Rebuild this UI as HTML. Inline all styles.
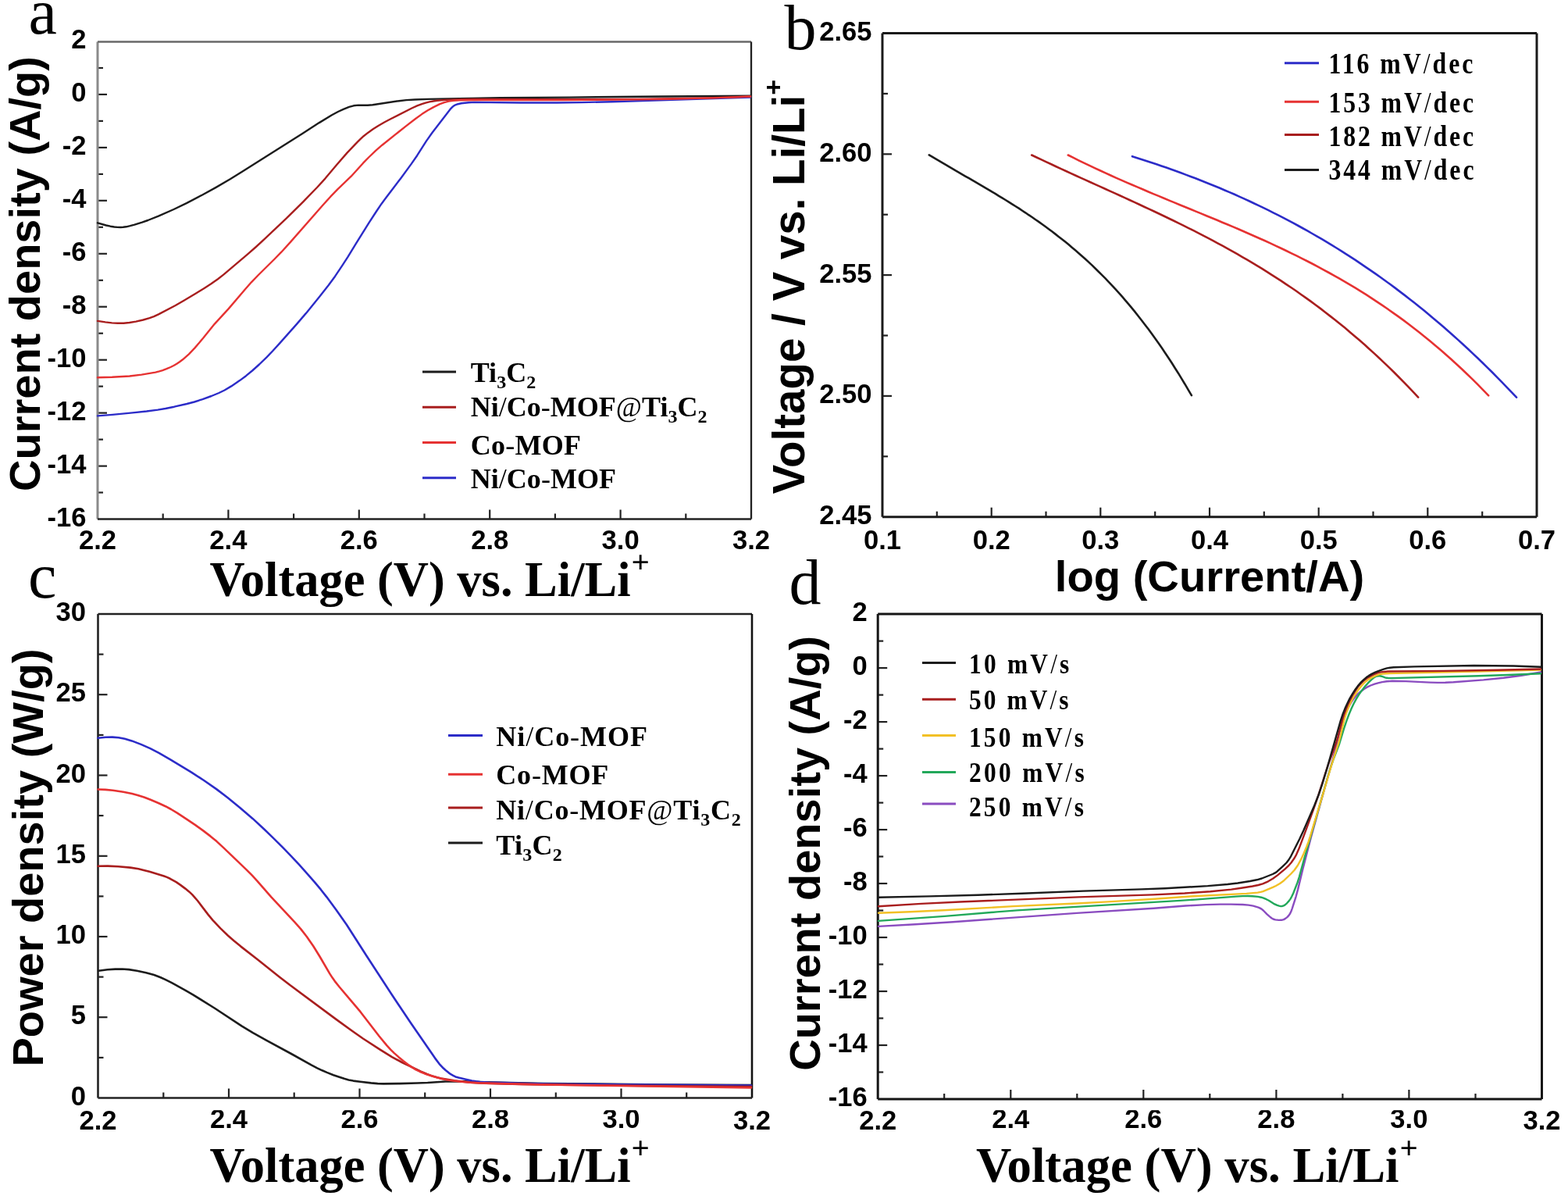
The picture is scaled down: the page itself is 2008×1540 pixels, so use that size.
<!DOCTYPE html>
<html><head><meta charset="utf-8"><title>Figure</title>
<style>html,body{margin:0;padding:0;background:#fff;}svg{display:block;}</style>
</head><body>
<svg xmlns="http://www.w3.org/2000/svg" width="2008" height="1540" viewBox="0 0 2008 1540">
<rect width="2008" height="1540" fill="#ffffff"/>
<line x1="125" y1="630.5" x2="132" y2="630.5" stroke="#222" stroke-width="2.2"/>
<line x1="125" y1="596.6" x2="137" y2="596.6" stroke="#222" stroke-width="2.2"/>
<line x1="125" y1="562.6" x2="132" y2="562.6" stroke="#222" stroke-width="2.2"/>
<line x1="125" y1="528.6" x2="137" y2="528.6" stroke="#222" stroke-width="2.2"/>
<line x1="125" y1="494.6" x2="132" y2="494.6" stroke="#222" stroke-width="2.2"/>
<line x1="125" y1="460.7" x2="137" y2="460.7" stroke="#222" stroke-width="2.2"/>
<line x1="125" y1="426.7" x2="132" y2="426.7" stroke="#222" stroke-width="2.2"/>
<line x1="125" y1="392.7" x2="137" y2="392.7" stroke="#222" stroke-width="2.2"/>
<line x1="125" y1="358.8" x2="132" y2="358.8" stroke="#222" stroke-width="2.2"/>
<line x1="125" y1="324.8" x2="137" y2="324.8" stroke="#222" stroke-width="2.2"/>
<line x1="125" y1="290.8" x2="132" y2="290.8" stroke="#222" stroke-width="2.2"/>
<line x1="125" y1="256.8" x2="137" y2="256.8" stroke="#222" stroke-width="2.2"/>
<line x1="125" y1="222.9" x2="132" y2="222.9" stroke="#222" stroke-width="2.2"/>
<line x1="125" y1="188.9" x2="137" y2="188.9" stroke="#222" stroke-width="2.2"/>
<line x1="125" y1="154.9" x2="132" y2="154.9" stroke="#222" stroke-width="2.2"/>
<line x1="125" y1="120.9" x2="137" y2="120.9" stroke="#222" stroke-width="2.2"/>
<line x1="125" y1="87.0" x2="132" y2="87.0" stroke="#222" stroke-width="2.2"/>
<line x1="208.7" y1="664.5" x2="208.7" y2="657.5" stroke="#222" stroke-width="2.2"/>
<line x1="292.4" y1="664.5" x2="292.4" y2="652.5" stroke="#222" stroke-width="2.2"/>
<line x1="376.1" y1="664.5" x2="376.1" y2="657.5" stroke="#222" stroke-width="2.2"/>
<line x1="459.8" y1="664.5" x2="459.8" y2="652.5" stroke="#222" stroke-width="2.2"/>
<line x1="543.5" y1="664.5" x2="543.5" y2="657.5" stroke="#222" stroke-width="2.2"/>
<line x1="627.2" y1="664.5" x2="627.2" y2="652.5" stroke="#222" stroke-width="2.2"/>
<line x1="710.9" y1="664.5" x2="710.9" y2="657.5" stroke="#222" stroke-width="2.2"/>
<line x1="794.6" y1="664.5" x2="794.6" y2="652.5" stroke="#222" stroke-width="2.2"/>
<line x1="878.3" y1="664.5" x2="878.3" y2="657.5" stroke="#222" stroke-width="2.2"/>
<line x1="125" y1="53.5" x2="125" y2="664.5" stroke="#8a8a8a" stroke-width="3"/>
<line x1="125" y1="53.5" x2="962" y2="53.5" stroke="#686868" stroke-width="2.5"/>
<line x1="962" y1="53.5" x2="962" y2="664.5" stroke="#202020" stroke-width="2.3"/>
<line x1="125" y1="664.5" x2="962" y2="664.5" stroke="#222" stroke-width="2.6"/>
<text x="110.5" y="62.1" font-family="'Liberation Sans', Arial, sans-serif" font-size="34.6" font-weight="bold" text-anchor="end" >2</text>
<text x="110.5" y="130.0" font-family="'Liberation Sans', Arial, sans-serif" font-size="34.6" font-weight="bold" text-anchor="end" >0</text>
<text x="110.5" y="198.0" font-family="'Liberation Sans', Arial, sans-serif" font-size="34.6" font-weight="bold" text-anchor="end" >-2</text>
<text x="110.5" y="265.9" font-family="'Liberation Sans', Arial, sans-serif" font-size="34.6" font-weight="bold" text-anchor="end" >-4</text>
<text x="110.5" y="333.9" font-family="'Liberation Sans', Arial, sans-serif" font-size="34.6" font-weight="bold" text-anchor="end" >-6</text>
<text x="110.5" y="401.8" font-family="'Liberation Sans', Arial, sans-serif" font-size="34.6" font-weight="bold" text-anchor="end" >-8</text>
<text x="110.5" y="469.8" font-family="'Liberation Sans', Arial, sans-serif" font-size="34.6" font-weight="bold" text-anchor="end" >-10</text>
<text x="110.5" y="537.7" font-family="'Liberation Sans', Arial, sans-serif" font-size="34.6" font-weight="bold" text-anchor="end" >-12</text>
<text x="110.5" y="605.7" font-family="'Liberation Sans', Arial, sans-serif" font-size="34.6" font-weight="bold" text-anchor="end" >-14</text>
<text x="110.5" y="673.6" font-family="'Liberation Sans', Arial, sans-serif" font-size="34.6" font-weight="bold" text-anchor="end" >-16</text>
<text x="125.0" y="703.0" font-family="'Liberation Sans', Arial, sans-serif" font-size="34.6" font-weight="bold" text-anchor="middle" >2.2</text>
<text x="292.4" y="703.0" font-family="'Liberation Sans', Arial, sans-serif" font-size="34.6" font-weight="bold" text-anchor="middle" >2.4</text>
<text x="459.8" y="703.0" font-family="'Liberation Sans', Arial, sans-serif" font-size="34.6" font-weight="bold" text-anchor="middle" >2.6</text>
<text x="627.2" y="703.0" font-family="'Liberation Sans', Arial, sans-serif" font-size="34.6" font-weight="bold" text-anchor="middle" >2.8</text>
<text x="794.6" y="703.0" font-family="'Liberation Sans', Arial, sans-serif" font-size="34.6" font-weight="bold" text-anchor="middle" >3.0</text>
<text x="962.0" y="703.0" font-family="'Liberation Sans', Arial, sans-serif" font-size="34.6" font-weight="bold" text-anchor="middle" >3.2</text>
<path d="M125.0,285.3 L136.0,288.5 L141.4,289.7 L146.3,290.5 L150.3,290.9 L154.3,291.0 L157.7,290.8 L161.7,290.3 L166.6,289.2 L172.3,287.6 L181.9,284.6 L189.4,282.0 L202.9,276.6 L222.5,268.0 L238.8,260.1 L259.6,249.3 L276.2,240.1 L294.8,229.3 L310.5,219.6 L387.3,170.9 L408.8,157.1 L425.0,147.3 L432.9,143.0 L439.7,139.8 L447.1,136.9 L452.9,135.3 L458.8,134.6 L470.8,134.7 L477.2,134.3 L510.9,129.2 L520.3,128.1 L531.2,127.5 L548.7,126.9 L640.7,125.1 L729.1,124.6 L846.6,123.5 L961.0,122.8" fill="none" stroke="#1c1c1c" stroke-width="2.4" stroke-linejoin="round" stroke-linecap="round"/>
<path d="M125.0,532.4 L143.9,530.9 L169.8,528.4 L187.7,526.5 L202.1,524.6 L211.9,523.0 L223.2,520.7 L239.3,517.0 L248.9,514.5 L259.4,511.1 L270.7,507.0 L280.4,503.0 L287.6,499.5 L296.2,494.4 L307.0,487.1 L315.0,481.2 L323.1,474.5 L332.0,466.5 L341.7,457.1 L349.0,449.5 L358.0,439.6 L380.0,414.9 L392.0,400.9 L409.0,379.9 L420.8,365.0 L429.1,353.7 L438.0,340.4 L445.3,329.1 L456.0,311.6 L472.7,284.9 L481.4,271.5 L488.7,260.7 L494.6,252.7 L513.1,228.4 L526.7,209.9 L534.1,199.2 L545.9,180.6 L553.4,170.0 L576.5,139.9 L579.9,136.4 L581.5,135.3 L583.2,134.3 L586.4,133.2 L590.8,132.3 L600.2,131.3 L607.7,130.9 L666.7,131.5 L712.7,131.5 L744.6,131.1 L784.1,130.2 L961.0,124.6" fill="none" stroke="#2c2cc8" stroke-width="2.4" stroke-linejoin="round" stroke-linecap="round"/>
<path d="M125.0,410.9 L134.9,412.4 L143.3,413.4 L150.8,413.8 L158.3,413.7 L165.7,413.0 L174.1,411.6 L183.4,409.5 L191.5,407.2 L197.1,405.1 L203.0,402.4 L224.7,391.0 L235.5,384.7 L251.4,375.2 L261.6,368.9 L270.4,363.2 L279.0,357.2 L286.5,351.4 L316.6,325.9 L327.9,316.0 L338.6,306.2 L366.9,279.4 L388.2,258.3 L406.0,240.0 L416.4,228.6 L431.8,210.2 L444.3,195.9 L457.4,182.1 L461.7,177.9 L465.7,174.2 L471.2,169.9 L477.7,165.3 L484.9,160.7 L492.7,156.2 L499.8,152.5 L527.4,138.5 L534.2,135.4 L540.3,133.1 L545.1,131.6 L549.9,130.4 L554.8,129.5 L559.8,128.8 L570.7,127.9 L591.2,127.1 L605.7,127.0 L701.6,127.3 L818.1,126.9 L906.1,125.4 L961.0,123.5" fill="none" stroke="#a81e1e" stroke-width="2.4" stroke-linejoin="round" stroke-linecap="round"/>
<path d="M125.0,483.2 L143.5,482.8 L165.9,481.5 L181.3,479.6 L199.1,476.6 L203.9,475.4 L208.2,474.1 L213.3,472.2 L218.4,470.0 L222.4,468.0 L226.3,465.8 L230.0,463.3 L234.0,460.3 L241.9,453.3 L249.5,445.4 L260.2,432.8 L274.9,414.6 L292.8,395.1 L313.6,370.7 L321.9,361.3 L330.9,352.0 L351.2,332.0 L360.3,322.7 L372.4,309.4 L413.3,262.8 L423.3,251.7 L432.3,242.3 L449.7,225.7 L465.1,208.7 L472.1,201.5 L481.1,192.9 L489.4,185.7 L520.3,161.1 L531.8,152.3 L540.3,146.1 L547.4,141.5 L555.3,137.1 L563.4,133.2 L569.0,131.1 L574.7,129.6 L580.6,128.7 L588.1,128.3 L617.6,128.0 L722.1,128.1 L818.6,127.4 L857.1,126.7 L906.1,125.6 L929.0,124.9 L961.0,123.5" fill="none" stroke="#e63232" stroke-width="2.4" stroke-linejoin="round" stroke-linecap="round"/>
<line x1="541" y1="475.9" x2="584" y2="475.9" stroke="#1c1c1c" stroke-width="3"/>
<text x="0" y="0" transform="translate(602.7,488.8) scale(1.0,1)" textLength="83.6" lengthAdjust="spacing" font-family="'Liberation Serif', 'Times New Roman', serif" font-size="36" font-weight="bold">Ti<tspan font-size="24" dy="8">3</tspan><tspan font-size="36" dy="-8">C</tspan><tspan font-size="24" dy="8">2</tspan></text>
<line x1="541" y1="521.3" x2="584" y2="521.3" stroke="#a81e1e" stroke-width="3"/>
<text x="0" y="0" transform="translate(602.7,533.2) scale(1.0,1)" textLength="302.8" lengthAdjust="spacing" font-family="'Liberation Serif', 'Times New Roman', serif" font-size="36" font-weight="bold">Ni<tspan font-weight="normal">/</tspan>Co<tspan font-weight="normal">-</tspan>MOF<tspan font-weight="normal">@</tspan>Ti<tspan font-size="24" dy="8">3</tspan><tspan font-size="36" dy="-8">C</tspan><tspan font-size="24" dy="8">2</tspan></text>
<line x1="541" y1="566.5" x2="584" y2="566.5" stroke="#e63232" stroke-width="3"/>
<text x="0" y="0" transform="translate(602.7,581.8) scale(1.0,1)" textLength="141.3" lengthAdjust="spacing" font-family="'Liberation Serif', 'Times New Roman', serif" font-size="36" font-weight="bold">Co<tspan font-weight="normal">-</tspan>MOF</text>
<line x1="541" y1="611.7" x2="584" y2="611.7" stroke="#2c2cc8" stroke-width="3"/>
<text x="0" y="0" transform="translate(602.7,625.3) scale(1.0,1)" textLength="186.3" lengthAdjust="spacing" font-family="'Liberation Serif', 'Times New Roman', serif" font-size="36" font-weight="bold">Ni<tspan font-weight="normal">/</tspan>Co<tspan font-weight="normal">-</tspan>MOF</text>
<text x="0.0" y="0.0" font-family="'Liberation Sans', Arial, sans-serif" font-size="56" font-weight="bold" text-anchor="start" transform="translate(51.4,629) rotate(-90)">Current density (A/g)</text>
<text x="268.5" y="763.2" font-family="'Liberation Serif', 'Times New Roman', serif" font-size="64" font-weight="bold" textLength="539" lengthAdjust="spacingAndGlyphs">Voltage (V) vs. Li/Li</text>
<text x="808.5" y="732.7" font-family="'Liberation Serif', 'Times New Roman', serif" font-size="41" font-weight="bold">+</text>
<text x="36.5" y="43.3" font-family="'Liberation Serif', 'Times New Roman', serif" font-size="82" font-weight="normal" text-anchor="start" >a</text>
<line x1="1130" y1="119.9" x2="1137" y2="119.9" stroke="#222" stroke-width="2.2"/>
<line x1="1130" y1="197.3" x2="1142" y2="197.3" stroke="#222" stroke-width="2.2"/>
<line x1="1130" y1="274.7" x2="1137" y2="274.7" stroke="#222" stroke-width="2.2"/>
<line x1="1130" y1="352.1" x2="1142" y2="352.1" stroke="#222" stroke-width="2.2"/>
<line x1="1130" y1="429.5" x2="1137" y2="429.5" stroke="#222" stroke-width="2.2"/>
<line x1="1130" y1="506.9" x2="1142" y2="506.9" stroke="#222" stroke-width="2.2"/>
<line x1="1130" y1="584.3" x2="1137" y2="584.3" stroke="#222" stroke-width="2.2"/>
<line x1="1199.8" y1="661.7" x2="1199.8" y2="654.7" stroke="#222" stroke-width="2.2"/>
<line x1="1269.7" y1="661.7" x2="1269.7" y2="649.7" stroke="#222" stroke-width="2.2"/>
<line x1="1339.5" y1="661.7" x2="1339.5" y2="654.7" stroke="#222" stroke-width="2.2"/>
<line x1="1409.3" y1="661.7" x2="1409.3" y2="649.7" stroke="#222" stroke-width="2.2"/>
<line x1="1479.2" y1="661.7" x2="1479.2" y2="654.7" stroke="#222" stroke-width="2.2"/>
<line x1="1549.0" y1="661.7" x2="1549.0" y2="649.7" stroke="#222" stroke-width="2.2"/>
<line x1="1618.8" y1="661.7" x2="1618.8" y2="654.7" stroke="#222" stroke-width="2.2"/>
<line x1="1688.7" y1="661.7" x2="1688.7" y2="649.7" stroke="#222" stroke-width="2.2"/>
<line x1="1758.5" y1="661.7" x2="1758.5" y2="654.7" stroke="#222" stroke-width="2.2"/>
<line x1="1828.3" y1="661.7" x2="1828.3" y2="649.7" stroke="#222" stroke-width="2.2"/>
<line x1="1898.2" y1="661.7" x2="1898.2" y2="654.7" stroke="#222" stroke-width="2.2"/>
<line x1="1130" y1="42.5" x2="1130" y2="661.7" stroke="#1a1a1a" stroke-width="3"/>
<line x1="1130" y1="42.5" x2="1968" y2="42.5" stroke="#1a1a1a" stroke-width="3"/>
<line x1="1968" y1="42.5" x2="1968" y2="661.7" stroke="#1a1a1a" stroke-width="3"/>
<line x1="1130" y1="661.7" x2="1968" y2="661.7" stroke="#1a1a1a" stroke-width="3"/>
<text x="1116.5" y="52.0" font-family="'Liberation Sans', Arial, sans-serif" font-size="34.6" font-weight="bold" text-anchor="end" >2.65</text>
<text x="1116.5" y="206.8" font-family="'Liberation Sans', Arial, sans-serif" font-size="34.6" font-weight="bold" text-anchor="end" >2.60</text>
<text x="1116.5" y="361.6" font-family="'Liberation Sans', Arial, sans-serif" font-size="34.6" font-weight="bold" text-anchor="end" >2.55</text>
<text x="1116.5" y="516.4" font-family="'Liberation Sans', Arial, sans-serif" font-size="34.6" font-weight="bold" text-anchor="end" >2.50</text>
<text x="1116.5" y="671.2" font-family="'Liberation Sans', Arial, sans-serif" font-size="34.6" font-weight="bold" text-anchor="end" >2.45</text>
<text x="1130.0" y="703.0" font-family="'Liberation Sans', Arial, sans-serif" font-size="34.6" font-weight="bold" text-anchor="middle" >0.1</text>
<text x="1269.7" y="703.0" font-family="'Liberation Sans', Arial, sans-serif" font-size="34.6" font-weight="bold" text-anchor="middle" >0.2</text>
<text x="1409.3" y="703.0" font-family="'Liberation Sans', Arial, sans-serif" font-size="34.6" font-weight="bold" text-anchor="middle" >0.3</text>
<text x="1549.0" y="703.0" font-family="'Liberation Sans', Arial, sans-serif" font-size="34.6" font-weight="bold" text-anchor="middle" >0.4</text>
<text x="1688.7" y="703.0" font-family="'Liberation Sans', Arial, sans-serif" font-size="34.6" font-weight="bold" text-anchor="middle" >0.5</text>
<text x="1828.3" y="703.0" font-family="'Liberation Sans', Arial, sans-serif" font-size="34.6" font-weight="bold" text-anchor="middle" >0.6</text>
<text x="1968.0" y="703.0" font-family="'Liberation Sans', Arial, sans-serif" font-size="34.6" font-weight="bold" text-anchor="middle" >0.7</text>
<path d="M1189.8,198.3 L1194.1,200.9 L1198.3,203.4 L1202.6,205.9 L1206.8,208.4 L1211.1,210.9 L1215.3,213.4 L1219.6,215.9 L1223.8,218.4 L1228.1,220.8 L1232.3,223.3 L1236.6,225.8 L1240.9,228.2 L1245.1,230.7 L1249.4,233.2 L1253.6,235.6 L1257.9,238.1 L1262.1,240.6 L1266.4,243.1 L1270.6,245.7 L1274.9,248.2 L1279.1,250.8 L1283.4,253.4 L1287.7,256.0 L1291.9,258.6 L1296.2,261.3 L1300.4,264.0 L1304.7,266.7 L1308.9,269.5 L1313.2,272.3 L1317.4,275.2 L1321.7,278.0 L1325.9,281.0 L1330.2,283.9 L1334.5,287.0 L1338.7,290.0 L1343.0,293.2 L1347.2,296.3 L1351.5,299.6 L1355.7,302.9 L1360.0,306.2 L1364.2,309.6 L1368.5,313.1 L1372.7,316.7 L1377.0,320.3 L1381.2,323.9 L1385.5,327.7 L1389.8,331.5 L1394.0,335.4 L1398.3,339.4 L1402.5,343.5 L1406.8,347.7 L1411.0,351.9 L1415.3,356.2 L1419.5,360.6 L1423.8,365.1 L1428.0,369.7 L1432.3,374.4 L1436.6,379.2 L1440.8,384.1 L1445.1,389.1 L1449.3,394.2 L1453.6,399.4 L1457.8,404.7 L1462.1,410.2 L1466.3,415.7 L1470.6,421.3 L1474.8,427.1 L1479.1,433.0 L1483.4,439.0 L1487.6,445.1 L1491.9,451.4 L1496.1,457.8 L1500.4,464.3 L1504.6,471.0 L1508.9,477.7 L1513.1,484.7 L1517.4,491.7 L1521.6,498.9 L1525.9,506.2" fill="none" stroke="#1c1c1c" stroke-width="2.6" stroke-linejoin="round" stroke-linecap="round"/>
<path d="M1321.2,198.5 L1327.5,201.5 L1333.7,204.4 L1340.0,207.4 L1346.3,210.3 L1352.5,213.2 L1358.8,216.1 L1365.1,219.0 L1371.3,221.9 L1377.6,224.7 L1383.9,227.6 L1390.1,230.4 L1396.4,233.3 L1402.7,236.1 L1408.9,238.9 L1415.2,241.8 L1421.5,244.6 L1427.7,247.4 L1434.0,250.3 L1440.3,253.1 L1446.5,256.0 L1452.8,258.9 L1459.0,261.8 L1465.3,264.7 L1471.6,267.6 L1477.8,270.5 L1484.1,273.5 L1490.4,276.5 L1496.6,279.5 L1502.9,282.5 L1509.2,285.6 L1515.4,288.7 L1521.7,291.8 L1528.0,294.9 L1534.2,298.1 L1540.5,301.4 L1546.8,304.6 L1553.0,307.9 L1559.3,311.3 L1565.6,314.7 L1571.8,318.1 L1578.1,321.6 L1584.4,325.2 L1590.6,328.8 L1596.9,332.4 L1603.2,336.1 L1609.4,339.9 L1615.7,343.7 L1622.0,347.6 L1628.2,351.6 L1634.5,355.6 L1640.8,359.6 L1647.0,363.8 L1653.3,368.0 L1659.6,372.3 L1665.8,376.7 L1672.1,381.1 L1678.4,385.6 L1684.6,390.2 L1690.9,394.9 L1697.1,399.7 L1703.4,404.6 L1709.7,409.5 L1715.9,414.5 L1722.2,419.6 L1728.5,424.9 L1734.7,430.2 L1741.0,435.6 L1747.3,441.1 L1753.5,446.7 L1759.8,452.4 L1766.1,458.2 L1772.3,464.1 L1778.6,470.1 L1784.9,476.3 L1791.1,482.5 L1797.4,488.9 L1803.7,495.3 L1809.9,501.9 L1816.2,508.6" fill="none" stroke="#a81e1e" stroke-width="2.6" stroke-linejoin="round" stroke-linecap="round"/>
<path d="M1367.8,198.5 L1374.6,201.9 L1381.4,205.3 L1388.2,208.6 L1395.1,211.9 L1401.9,215.1 L1408.7,218.3 L1415.5,221.4 L1422.3,224.5 L1429.1,227.6 L1436.0,230.6 L1442.8,233.6 L1449.6,236.5 L1456.4,239.4 L1463.2,242.3 L1470.0,245.2 L1476.8,248.1 L1483.7,250.9 L1490.5,253.7 L1497.3,256.6 L1504.1,259.4 L1510.9,262.2 L1517.7,265.0 L1524.5,267.8 L1531.4,270.6 L1538.2,273.4 L1545.0,276.2 L1551.8,279.0 L1558.6,281.8 L1565.4,284.7 L1572.3,287.5 L1579.1,290.4 L1585.9,293.3 L1592.7,296.3 L1599.5,299.2 L1606.3,302.2 L1613.1,305.3 L1620.0,308.3 L1626.8,311.4 L1633.6,314.6 L1640.4,317.8 L1647.2,321.0 L1654.0,324.3 L1660.9,327.7 L1667.7,331.1 L1674.5,334.5 L1681.3,338.0 L1688.1,341.6 L1694.9,345.3 L1701.7,349.0 L1708.6,352.8 L1715.4,356.7 L1722.2,360.6 L1729.0,364.6 L1735.8,368.7 L1742.6,372.9 L1749.5,377.2 L1756.3,381.6 L1763.1,386.1 L1769.9,390.6 L1776.7,395.3 L1783.5,400.1 L1790.3,404.9 L1797.2,409.9 L1804.0,415.0 L1810.8,420.2 L1817.6,425.5 L1824.4,430.9 L1831.2,436.5 L1838.0,442.2 L1844.9,448.0 L1851.7,453.9 L1858.5,460.0 L1865.3,466.2 L1872.1,472.5 L1878.9,479.0 L1885.8,485.6 L1892.6,492.4 L1899.4,499.3 L1906.2,506.3" fill="none" stroke="#e63232" stroke-width="2.6" stroke-linejoin="round" stroke-linecap="round"/>
<path d="M1450.0,200.2 L1456.2,202.2 L1462.5,204.2 L1468.7,206.2 L1474.9,208.2 L1481.1,210.3 L1487.4,212.5 L1493.6,214.6 L1499.8,216.8 L1506.1,219.0 L1512.3,221.3 L1518.5,223.6 L1524.7,226.0 L1531.0,228.3 L1537.2,230.8 L1543.4,233.2 L1549.6,235.7 L1555.9,238.3 L1562.1,240.8 L1568.3,243.5 L1574.6,246.1 L1580.8,248.8 L1587.0,251.6 L1593.2,254.4 L1599.5,257.3 L1605.7,260.2 L1611.9,263.1 L1618.2,266.1 L1624.4,269.2 L1630.6,272.3 L1636.8,275.4 L1643.1,278.6 L1649.3,281.9 L1655.5,285.2 L1661.7,288.5 L1668.0,292.0 L1674.2,295.4 L1680.4,299.0 L1686.7,302.6 L1692.9,306.2 L1699.1,309.9 L1705.3,313.7 L1711.6,317.5 L1717.8,321.4 L1724.0,325.3 L1730.3,329.4 L1736.5,333.4 L1742.7,337.6 L1748.9,341.8 L1755.2,346.1 L1761.4,350.4 L1767.6,354.8 L1773.8,359.3 L1780.1,363.8 L1786.3,368.4 L1792.5,373.1 L1798.8,377.9 L1805.0,382.7 L1811.2,387.6 L1817.4,392.6 L1823.7,397.6 L1829.9,402.8 L1836.1,408.0 L1842.4,413.2 L1848.6,418.6 L1854.8,424.0 L1861.0,429.5 L1867.3,435.1 L1873.5,440.8 L1879.7,446.5 L1885.9,452.4 L1892.2,458.3 L1898.4,464.3 L1904.6,470.4 L1910.9,476.5 L1917.1,482.8 L1923.3,489.1 L1929.5,495.6 L1935.8,502.1 L1942.0,508.7" fill="none" stroke="#2c2cc8" stroke-width="2.6" stroke-linejoin="round" stroke-linecap="round"/>
<line x1="1645" y1="80.7" x2="1689" y2="80.7" stroke="#2c2cc8" stroke-width="3"/>
<text x="0" y="0" transform="translate(1701.5,94.1) scale(0.86,1)" textLength="215.1" lengthAdjust="spacing" font-family="'Liberation Serif', 'Times New Roman', serif" font-size="37" font-weight="bold">116 mV<tspan font-weight="normal">/</tspan>dec</text>
<line x1="1645" y1="130.2" x2="1689" y2="130.2" stroke="#e63232" stroke-width="3"/>
<text x="0" y="0" transform="translate(1701.5,143.9) scale(0.86,1)" textLength="215.9" lengthAdjust="spacing" font-family="'Liberation Serif', 'Times New Roman', serif" font-size="37" font-weight="bold">153 mV<tspan font-weight="normal">/</tspan>dec</text>
<line x1="1645" y1="172.6" x2="1689" y2="172.6" stroke="#a81e1e" stroke-width="3"/>
<text x="0" y="0" transform="translate(1701.5,187.2) scale(0.86,1)" textLength="215.9" lengthAdjust="spacing" font-family="'Liberation Serif', 'Times New Roman', serif" font-size="37" font-weight="bold">182 mV<tspan font-weight="normal">/</tspan>dec</text>
<line x1="1645" y1="217.4" x2="1689" y2="217.4" stroke="#1c1c1c" stroke-width="3"/>
<text x="0" y="0" transform="translate(1701.5,229.8) scale(0.86,1)" textLength="216.3" lengthAdjust="spacing" font-family="'Liberation Serif', 'Times New Roman', serif" font-size="37" font-weight="bold">344 mV<tspan font-weight="normal">/</tspan>dec</text>
<text x="0.0" y="0.0" font-family="'Liberation Sans', Arial, sans-serif" font-size="56.5" font-weight="bold" text-anchor="start" transform="translate(1029.6,632.5) rotate(-90)">Voltage / V vs. Li/Li<tspan font-size="0.6em" dy="-0.82em">+</tspan></text>
<text x="1549.0" y="757.2" font-family="'Liberation Sans', Arial, sans-serif" font-size="56.2" font-weight="bold" text-anchor="middle" >log (Current/A)</text>
<text x="1004.5" y="63.0" font-family="'Liberation Serif', 'Times New Roman', serif" font-size="82" font-weight="normal" text-anchor="start" >b</text>
<line x1="125.5" y1="837.6" x2="132.5" y2="837.6" stroke="#222" stroke-width="2.2"/>
<line x1="125.5" y1="889.2" x2="137.5" y2="889.2" stroke="#222" stroke-width="2.2"/>
<line x1="125.5" y1="940.9" x2="132.5" y2="940.9" stroke="#222" stroke-width="2.2"/>
<line x1="125.5" y1="992.5" x2="137.5" y2="992.5" stroke="#222" stroke-width="2.2"/>
<line x1="125.5" y1="1044.1" x2="132.5" y2="1044.1" stroke="#222" stroke-width="2.2"/>
<line x1="125.5" y1="1095.8" x2="137.5" y2="1095.8" stroke="#222" stroke-width="2.2"/>
<line x1="125.5" y1="1147.4" x2="132.5" y2="1147.4" stroke="#222" stroke-width="2.2"/>
<line x1="125.5" y1="1199.0" x2="137.5" y2="1199.0" stroke="#222" stroke-width="2.2"/>
<line x1="125.5" y1="1250.6" x2="132.5" y2="1250.6" stroke="#222" stroke-width="2.2"/>
<line x1="125.5" y1="1302.2" x2="137.5" y2="1302.2" stroke="#222" stroke-width="2.2"/>
<line x1="125.5" y1="1353.9" x2="132.5" y2="1353.9" stroke="#222" stroke-width="2.2"/>
<line x1="209.3" y1="1405.5" x2="209.3" y2="1398.5" stroke="#222" stroke-width="2.2"/>
<line x1="293.0" y1="1405.5" x2="293.0" y2="1393.5" stroke="#222" stroke-width="2.2"/>
<line x1="376.7" y1="1405.5" x2="376.7" y2="1398.5" stroke="#222" stroke-width="2.2"/>
<line x1="460.5" y1="1405.5" x2="460.5" y2="1393.5" stroke="#222" stroke-width="2.2"/>
<line x1="544.2" y1="1405.5" x2="544.2" y2="1398.5" stroke="#222" stroke-width="2.2"/>
<line x1="628.0" y1="1405.5" x2="628.0" y2="1393.5" stroke="#222" stroke-width="2.2"/>
<line x1="711.8" y1="1405.5" x2="711.8" y2="1398.5" stroke="#222" stroke-width="2.2"/>
<line x1="795.5" y1="1405.5" x2="795.5" y2="1393.5" stroke="#222" stroke-width="2.2"/>
<line x1="879.2" y1="1405.5" x2="879.2" y2="1398.5" stroke="#222" stroke-width="2.2"/>
<line x1="125.5" y1="786" x2="125.5" y2="1405.5" stroke="#222" stroke-width="2.6"/>
<line x1="125.5" y1="786" x2="963" y2="786" stroke="#222" stroke-width="2.6"/>
<line x1="963" y1="786" x2="963" y2="1405.5" stroke="#111" stroke-width="2.6"/>
<line x1="125.5" y1="1405.5" x2="963" y2="1405.5" stroke="#222" stroke-width="2.6"/>
<text x="110.0" y="795.1" font-family="'Liberation Sans', Arial, sans-serif" font-size="34.6" font-weight="bold" text-anchor="end" >30</text>
<text x="110.0" y="898.4" font-family="'Liberation Sans', Arial, sans-serif" font-size="34.6" font-weight="bold" text-anchor="end" >25</text>
<text x="110.0" y="1001.6" font-family="'Liberation Sans', Arial, sans-serif" font-size="34.6" font-weight="bold" text-anchor="end" >20</text>
<text x="110.0" y="1104.8" font-family="'Liberation Sans', Arial, sans-serif" font-size="34.6" font-weight="bold" text-anchor="end" >15</text>
<text x="110.0" y="1208.1" font-family="'Liberation Sans', Arial, sans-serif" font-size="34.6" font-weight="bold" text-anchor="end" >10</text>
<text x="110.0" y="1311.3" font-family="'Liberation Sans', Arial, sans-serif" font-size="34.6" font-weight="bold" text-anchor="end" >5</text>
<text x="110.0" y="1414.6" font-family="'Liberation Sans', Arial, sans-serif" font-size="34.6" font-weight="bold" text-anchor="end" >0</text>
<text x="125.5" y="1445.6" font-family="'Liberation Sans', Arial, sans-serif" font-size="34.6" font-weight="bold" text-anchor="middle" >2.2</text>
<text x="963.0" y="1445.6" font-family="'Liberation Sans', Arial, sans-serif" font-size="34.6" font-weight="bold" text-anchor="middle" >3.2</text>
<text x="293.0" y="1443.8" font-family="'Liberation Sans', Arial, sans-serif" font-size="34.6" font-weight="bold" text-anchor="middle" >2.4</text>
<text x="460.5" y="1443.8" font-family="'Liberation Sans', Arial, sans-serif" font-size="34.6" font-weight="bold" text-anchor="middle" >2.6</text>
<text x="628.0" y="1443.8" font-family="'Liberation Sans', Arial, sans-serif" font-size="34.6" font-weight="bold" text-anchor="middle" >2.8</text>
<text x="795.5" y="1443.8" font-family="'Liberation Sans', Arial, sans-serif" font-size="34.6" font-weight="bold" text-anchor="middle" >3.0</text>
<rect x="160" y="1410" width="760" height="11.2" fill="#fff"/>
<path d="M126.2,1242.7 L137.6,1241.3 L147.6,1240.6 L156.6,1240.5 L165.1,1241.1 L175.4,1242.7 L187.1,1245.2 L197.3,1248.0 L205.7,1251.2 L212.0,1254.1 L220.0,1258.2 L236.7,1267.3 L247.5,1273.6 L274.7,1290.5 L309.8,1313.6 L323.9,1322.1 L340.9,1331.7 L373.0,1349.0 L399.2,1363.7 L406.3,1367.3 L412.6,1370.3 L418.6,1372.9 L427.0,1376.2 L434.5,1378.8 L440.7,1380.8 L446.5,1382.4 L452.4,1383.6 L461.3,1384.8 L475.2,1386.4 L483.7,1387.1 L491.1,1387.4 L511.6,1387.1 L534.1,1386.5 L547.6,1386.0 L570.6,1384.5 L582.1,1384.2 L592.6,1384.4 L621.0,1385.4 L696.0,1387.0 L848.5,1388.5 L962.0,1389.0" fill="none" stroke="#1c1c1c" stroke-width="2.6" stroke-linejoin="round" stroke-linecap="round"/>
<path d="M125.5,944.7 L135.4,943.7 L143.9,943.6 L151.9,944.2 L159.8,945.7 L168.8,948.4 L180.5,952.9 L192.4,958.1 L203.5,963.8 L218.2,972.3 L244.7,988.4 L261.1,999.0 L277.1,1010.1 L291.4,1021.0 L307.3,1033.9 L323.6,1047.9 L338.3,1061.5 L349.8,1072.6 L362.9,1085.7 L373.0,1096.1 L382.9,1106.7 L392.9,1117.8 L402.8,1129.1 L410.8,1138.7 L418.2,1148.1 L430.7,1165.0 L443.9,1183.8 L468.7,1222.5 L503.1,1275.3 L526.2,1309.7 L557.1,1354.6 L562.5,1361.8 L567.6,1367.3 L570.9,1370.3 L574.4,1373.1 L577.3,1375.2 L580.3,1376.9 L583.4,1378.4 L587.2,1379.6 L596.5,1381.8 L604.3,1383.5 L609.7,1384.4 L614.7,1385.0 L625.6,1385.6 L669.1,1386.9 L699.6,1387.5 L793.1,1388.4 L962.0,1389.5" fill="none" stroke="#2c2cc8" stroke-width="2.6" stroke-linejoin="round" stroke-linecap="round"/>
<path d="M125.5,1108.7 L138.0,1108.6 L151.5,1109.3 L166.9,1110.6 L177.3,1112.3 L184.1,1113.9 L191.3,1115.8 L210.0,1121.5 L213.7,1122.9 L217.8,1124.8 L225.6,1129.2 L231.4,1133.1 L237.4,1137.6 L242.1,1141.4 L246.1,1145.1 L249.4,1148.8 L253.0,1153.0 L266.6,1170.9 L272.4,1177.8 L282.3,1188.4 L292.0,1197.8 L299.5,1204.3 L308.4,1211.6 L330.1,1228.5 L358.3,1250.9 L371.7,1261.3 L430.8,1305.1 L451.0,1319.7 L464.9,1329.5 L486.7,1343.6 L502.0,1353.1 L514.8,1360.0 L539.1,1371.6 L546.9,1375.0 L554.0,1377.6 L559.7,1379.3 L565.0,1380.6 L581.8,1383.2 L592.7,1384.6 L602.2,1385.6 L611.1,1386.3 L619.6,1386.7 L665.1,1387.9 L696.1,1388.5 L866.0,1390.4 L962.0,1391.0" fill="none" stroke="#a81e1e" stroke-width="2.6" stroke-linejoin="round" stroke-linecap="round"/>
<path d="M125.5,1010.5 L135.0,1010.9 L144.4,1011.8 L157.8,1013.8 L169.1,1016.0 L176.3,1017.9 L184.4,1020.5 L192.8,1023.8 L203.4,1028.2 L212.0,1032.2 L219.1,1036.0 L227.2,1040.9 L239.7,1049.1 L250.5,1056.4 L259.9,1063.1 L269.4,1070.4 L277.5,1077.1 L285.9,1084.9 L315.1,1112.9 L322.9,1120.7 L329.7,1128.1 L347.4,1148.4 L377.1,1180.2 L385.1,1189.1 L392.8,1199.0 L401.3,1211.3 L409.5,1224.5 L422.1,1246.1 L425.6,1251.6 L428.8,1256.1 L434.7,1263.5 L461.5,1295.2 L485.6,1326.5 L495.4,1338.4 L500.2,1343.6 L504.8,1348.1 L510.8,1353.4 L516.9,1358.5 L522.5,1362.8 L527.9,1366.4 L532.6,1369.3 L537.5,1371.7 L543.9,1374.4 L554.9,1377.9 L564.0,1380.5 L571.8,1382.3 L578.2,1383.3 L586.2,1384.2 L602.1,1385.7 L614.1,1386.4 L649.1,1387.4 L693.5,1388.4 L962.0,1392.5" fill="none" stroke="#e63232" stroke-width="2.6" stroke-linejoin="round" stroke-linecap="round"/>
<line x1="574" y1="941.5" x2="618" y2="941.5" stroke="#2c2cc8" stroke-width="3"/>
<text x="0" y="0" transform="translate(635.3,954.8) scale(1.0,1)" textLength="193.7" lengthAdjust="spacing" font-family="'Liberation Serif', 'Times New Roman', serif" font-size="36" font-weight="bold">Ni<tspan font-weight="normal">/</tspan>Co<tspan font-weight="normal">-</tspan>MOF</text>
<line x1="574" y1="991.3" x2="618" y2="991.3" stroke="#e63232" stroke-width="3"/>
<text x="0" y="0" transform="translate(635.3,1003.6) scale(1.0,1)" textLength="144.0" lengthAdjust="spacing" font-family="'Liberation Serif', 'Times New Roman', serif" font-size="36" font-weight="bold">Co<tspan font-weight="normal">-</tspan>MOF</text>
<line x1="574" y1="1033.9" x2="618" y2="1033.9" stroke="#a81e1e" stroke-width="3"/>
<text x="0" y="0" transform="translate(635.3,1049.4) scale(1.0,1)" textLength="313.5" lengthAdjust="spacing" font-family="'Liberation Serif', 'Times New Roman', serif" font-size="36" font-weight="bold">Ni<tspan font-weight="normal">/</tspan>Co<tspan font-weight="normal">-</tspan>MOF<tspan font-weight="normal">@</tspan>Ti<tspan font-size="24" dy="8">3</tspan><tspan font-size="36" dy="-8">C</tspan><tspan font-size="24" dy="8">2</tspan></text>
<line x1="574" y1="1078.9" x2="618" y2="1078.9" stroke="#1c1c1c" stroke-width="3"/>
<text x="0" y="0" transform="translate(635.3,1094.3) scale(1.0,1)" textLength="84.4" lengthAdjust="spacing" font-family="'Liberation Serif', 'Times New Roman', serif" font-size="36" font-weight="bold">Ti<tspan font-size="24" dy="8">3</tspan><tspan font-size="36" dy="-8">C</tspan><tspan font-size="24" dy="8">2</tspan></text>
<text x="0.0" y="0.0" font-family="'Liberation Sans', Arial, sans-serif" font-size="56" font-weight="bold" text-anchor="start" transform="translate(54.5,1365.6) rotate(-90)">Power density (W/g)</text>
<text x="268.5" y="1513.2" font-family="'Liberation Serif', 'Times New Roman', serif" font-size="64" font-weight="bold" textLength="539" lengthAdjust="spacingAndGlyphs">Voltage (V) vs. Li/Li</text>
<text x="808.5" y="1482.7" font-family="'Liberation Serif', 'Times New Roman', serif" font-size="41" font-weight="bold">+</text>
<text x="36.0" y="765.0" font-family="'Liberation Serif', 'Times New Roman', serif" font-size="82" font-weight="normal" text-anchor="start" >c</text>
<line x1="1124.2" y1="1372.5" x2="1131.2" y2="1372.5" stroke="#222" stroke-width="2.2"/>
<line x1="1124.2" y1="1338.0" x2="1136.2" y2="1338.0" stroke="#222" stroke-width="2.2"/>
<line x1="1124.2" y1="1303.5" x2="1131.2" y2="1303.5" stroke="#222" stroke-width="2.2"/>
<line x1="1124.2" y1="1269.0" x2="1136.2" y2="1269.0" stroke="#222" stroke-width="2.2"/>
<line x1="1124.2" y1="1234.5" x2="1131.2" y2="1234.5" stroke="#222" stroke-width="2.2"/>
<line x1="1124.2" y1="1200.0" x2="1136.2" y2="1200.0" stroke="#222" stroke-width="2.2"/>
<line x1="1124.2" y1="1165.5" x2="1131.2" y2="1165.5" stroke="#222" stroke-width="2.2"/>
<line x1="1124.2" y1="1131.0" x2="1136.2" y2="1131.0" stroke="#222" stroke-width="2.2"/>
<line x1="1124.2" y1="1096.5" x2="1131.2" y2="1096.5" stroke="#222" stroke-width="2.2"/>
<line x1="1124.2" y1="1062.1" x2="1136.2" y2="1062.1" stroke="#222" stroke-width="2.2"/>
<line x1="1124.2" y1="1027.6" x2="1131.2" y2="1027.6" stroke="#222" stroke-width="2.2"/>
<line x1="1124.2" y1="993.1" x2="1136.2" y2="993.1" stroke="#222" stroke-width="2.2"/>
<line x1="1124.2" y1="958.6" x2="1131.2" y2="958.6" stroke="#222" stroke-width="2.2"/>
<line x1="1124.2" y1="924.1" x2="1136.2" y2="924.1" stroke="#222" stroke-width="2.2"/>
<line x1="1124.2" y1="889.6" x2="1131.2" y2="889.6" stroke="#222" stroke-width="2.2"/>
<line x1="1124.2" y1="855.1" x2="1136.2" y2="855.1" stroke="#222" stroke-width="2.2"/>
<line x1="1124.2" y1="820.6" x2="1131.2" y2="820.6" stroke="#222" stroke-width="2.2"/>
<line x1="1209.2" y1="1407" x2="1209.2" y2="1400" stroke="#222" stroke-width="2.2"/>
<line x1="1294.3" y1="1407" x2="1294.3" y2="1395" stroke="#222" stroke-width="2.2"/>
<line x1="1379.3" y1="1407" x2="1379.3" y2="1400" stroke="#222" stroke-width="2.2"/>
<line x1="1464.3" y1="1407" x2="1464.3" y2="1395" stroke="#222" stroke-width="2.2"/>
<line x1="1549.3" y1="1407" x2="1549.3" y2="1400" stroke="#222" stroke-width="2.2"/>
<line x1="1634.4" y1="1407" x2="1634.4" y2="1395" stroke="#222" stroke-width="2.2"/>
<line x1="1719.4" y1="1407" x2="1719.4" y2="1400" stroke="#222" stroke-width="2.2"/>
<line x1="1804.4" y1="1407" x2="1804.4" y2="1395" stroke="#222" stroke-width="2.2"/>
<line x1="1889.5" y1="1407" x2="1889.5" y2="1400" stroke="#222" stroke-width="2.2"/>
<line x1="1124.2" y1="786.1" x2="1124.2" y2="1407" stroke="#151515" stroke-width="3"/>
<line x1="1124.2" y1="786.1" x2="1974.5" y2="786.1" stroke="#151515" stroke-width="3"/>
<line x1="1974.5" y1="786.1" x2="1974.5" y2="1407" stroke="#151515" stroke-width="3"/>
<line x1="1124.2" y1="1407" x2="1974.5" y2="1407" stroke="#151515" stroke-width="3"/>
<text x="1110.8" y="795.2" font-family="'Liberation Sans', Arial, sans-serif" font-size="34.6" font-weight="bold" text-anchor="end" >2</text>
<text x="1110.8" y="864.2" font-family="'Liberation Sans', Arial, sans-serif" font-size="34.6" font-weight="bold" text-anchor="end" >0</text>
<text x="1110.8" y="933.2" font-family="'Liberation Sans', Arial, sans-serif" font-size="34.6" font-weight="bold" text-anchor="end" >-2</text>
<text x="1110.8" y="1002.2" font-family="'Liberation Sans', Arial, sans-serif" font-size="34.6" font-weight="bold" text-anchor="end" >-4</text>
<text x="1110.8" y="1071.2" font-family="'Liberation Sans', Arial, sans-serif" font-size="34.6" font-weight="bold" text-anchor="end" >-6</text>
<text x="1110.8" y="1140.1" font-family="'Liberation Sans', Arial, sans-serif" font-size="34.6" font-weight="bold" text-anchor="end" >-8</text>
<text x="1110.8" y="1209.1" font-family="'Liberation Sans', Arial, sans-serif" font-size="34.6" font-weight="bold" text-anchor="end" >-10</text>
<text x="1110.8" y="1278.1" font-family="'Liberation Sans', Arial, sans-serif" font-size="34.6" font-weight="bold" text-anchor="end" >-12</text>
<text x="1110.8" y="1347.1" font-family="'Liberation Sans', Arial, sans-serif" font-size="34.6" font-weight="bold" text-anchor="end" >-14</text>
<text x="1110.8" y="1416.1" font-family="'Liberation Sans', Arial, sans-serif" font-size="34.6" font-weight="bold" text-anchor="end" >-16</text>
<text x="1124.2" y="1445.6" font-family="'Liberation Sans', Arial, sans-serif" font-size="34.6" font-weight="bold" text-anchor="middle" >2.2</text>
<text x="1974.5" y="1445.6" font-family="'Liberation Sans', Arial, sans-serif" font-size="34.6" font-weight="bold" text-anchor="middle" >3.2</text>
<text x="1294.3" y="1443.8" font-family="'Liberation Sans', Arial, sans-serif" font-size="34.6" font-weight="bold" text-anchor="middle" >2.4</text>
<text x="1464.3" y="1443.8" font-family="'Liberation Sans', Arial, sans-serif" font-size="34.6" font-weight="bold" text-anchor="middle" >2.6</text>
<text x="1634.4" y="1443.8" font-family="'Liberation Sans', Arial, sans-serif" font-size="34.6" font-weight="bold" text-anchor="middle" >2.8</text>
<text x="1804.4" y="1443.8" font-family="'Liberation Sans', Arial, sans-serif" font-size="34.6" font-weight="bold" text-anchor="middle" >3.0</text>
<rect x="1160" y="1410" width="770" height="11.2" fill="#fff"/>
<path d="M1125.0,1185.9 L1172.4,1183.2 L1220.3,1180.2 L1378.9,1168.9 L1477.6,1162.8 L1518.5,1159.5 L1544.9,1158.1 L1562.4,1157.6 L1576.4,1157.6 L1591.4,1158.0 L1598.9,1158.6 L1604.8,1159.6 L1611.5,1161.6 L1613.7,1162.6 L1615.5,1163.6 L1617.8,1165.5 L1622.3,1170.1 L1626.0,1173.4 L1628.3,1175.3 L1630.4,1176.5 L1633.2,1177.4 L1637.7,1177.9 L1641.1,1177.8 L1643.9,1177.1 L1646.1,1175.9 L1648.4,1174.1 L1650.5,1171.9 L1652.1,1169.5 L1653.4,1166.8 L1654.9,1162.6 L1659.6,1147.8 L1662.1,1138.6 L1668.4,1112.4 L1678.8,1072.2 L1699.4,998.0 L1707.0,971.6 L1715.2,938.6 L1716.9,932.4 L1719.2,925.2 L1723.9,912.0 L1725.8,907.4 L1727.9,903.4 L1730.4,899.1 L1733.5,894.6 L1736.3,891.1 L1739.4,887.8 L1742.8,884.9 L1746.9,882.0 L1750.7,879.7 L1755.2,877.5 L1760.3,875.6 L1764.7,874.3 L1770.0,873.1 L1775.9,872.2 L1782.9,871.8 L1800.4,872.1 L1831.4,873.6 L1841.4,873.9 L1850.9,873.8 L1861.3,873.3 L1899.7,870.4 L1925.6,867.8 L1948.4,864.7 L1973.0,860.5" fill="none" stroke="#8a4cc0" stroke-width="2.4" stroke-linejoin="round" stroke-linecap="round"/>
<path d="M1125.0,1178.9 L1209.8,1172.9 L1276.5,1167.4 L1302.5,1165.4 L1511.5,1152.9 L1530.5,1151.6 L1582.8,1147.6 L1591.3,1147.1 L1597.8,1147.0 L1603.8,1147.3 L1610.8,1147.9 L1615.2,1148.7 L1618.0,1149.6 L1621.7,1151.2 L1624.8,1152.8 L1631.1,1156.8 L1635.6,1158.9 L1638.0,1159.7 L1639.9,1160.1 L1641.8,1160.0 L1643.2,1159.7 L1645.3,1158.6 L1648.0,1156.3 L1650.6,1153.4 L1652.6,1150.6 L1654.3,1147.5 L1656.4,1143.0 L1661.5,1129.9 L1663.9,1122.3 L1670.1,1099.6 L1703.1,985.3 L1707.2,973.0 L1715.1,952.5 L1721.0,932.9 L1724.4,922.9 L1727.5,914.5 L1730.4,907.6 L1733.6,900.8 L1736.9,894.6 L1740.3,889.1 L1744.4,883.4 L1748.4,878.3 L1752.1,874.2 L1757.5,869.0 L1759.4,867.4 L1761.5,866.2 L1763.4,865.6 L1765.8,865.3 L1767.2,865.3 L1769.2,865.7 L1773.8,867.3 L1775.7,867.8 L1778.1,868.1 L1781.6,868.1 L1893.6,865.3 L1931.0,864.0 L1973.0,862.3" fill="none" stroke="#22a85a" stroke-width="2.4" stroke-linejoin="round" stroke-linecap="round"/>
<path d="M1125.0,1168.8 L1165.5,1167.2 L1208.4,1165.3 L1297.7,1160.1 L1378.6,1156.5 L1419.0,1154.4 L1478.9,1150.8 L1524.3,1147.5 L1596.2,1143.9 L1610.6,1142.6 L1614.5,1141.9 L1617.4,1141.1 L1629.9,1135.9 L1633.9,1134.0 L1639.1,1131.0 L1643.9,1127.5 L1653.3,1118.5 L1657.7,1113.8 L1661.8,1108.0 L1666.1,1100.2 L1669.4,1092.9 L1673.1,1084.1 L1675.4,1078.1 L1677.9,1070.5 L1694.4,1015.9 L1705.2,979.0 L1714.1,951.4 L1716.3,943.2 L1721.3,921.8 L1722.7,917.0 L1724.3,912.2 L1726.8,905.7 L1729.7,899.3 L1732.4,894.0 L1735.2,889.2 L1738.6,884.3 L1742.9,878.8 L1746.5,874.7 L1749.9,871.7 L1752.3,869.9 L1754.8,868.4 L1758.8,866.3 L1762.5,864.7 L1765.3,863.7 L1768.2,862.9 L1774.1,862.2 L1788.6,861.7 L1892.1,859.5 L1973.0,857.5" fill="none" stroke="#f2c025" stroke-width="2.4" stroke-linejoin="round" stroke-linecap="round"/>
<path d="M1125.0,1160.3 L1179.9,1156.9 L1229.3,1154.5 L1381.2,1148.4 L1477.1,1145.4 L1517.1,1143.5 L1550.0,1141.2 L1576.8,1138.6 L1589.7,1136.8 L1604.0,1134.5 L1611.4,1133.0 L1617.1,1131.4 L1624.0,1128.3 L1630.4,1124.5 L1636.1,1120.4 L1645.7,1112.4 L1649.7,1108.7 L1653.6,1104.2 L1657.1,1099.3 L1660.1,1094.1 L1663.5,1086.3 L1672.3,1062.9 L1681.7,1037.1 L1688.3,1018.2 L1700.8,979.2 L1708.8,957.6 L1711.2,950.5 L1713.5,942.8 L1719.3,920.6 L1721.1,914.9 L1723.7,907.8 L1726.6,900.9 L1729.4,895.1 L1732.5,889.3 L1735.9,883.8 L1739.0,879.3 L1741.9,875.8 L1745.0,872.6 L1748.5,869.7 L1751.7,867.4 L1755.2,865.4 L1759.1,863.4 L1762.8,861.8 L1765.7,860.9 L1768.6,860.4 L1777.1,859.5 L1848.5,858.9 L1917.0,857.7 L1973.0,856.5" fill="none" stroke="#a81e1e" stroke-width="2.4" stroke-linejoin="round" stroke-linecap="round"/>
<path d="M1125.0,1148.7 L1190.5,1147.4 L1252.5,1145.7 L1308.9,1143.8 L1387.3,1140.6 L1461.8,1138.4 L1491.8,1137.3 L1546.7,1134.1 L1572.1,1132.0 L1585.0,1130.5 L1600.8,1128.0 L1609.6,1126.3 L1615.9,1124.5 L1629.8,1119.0 L1632.9,1117.4 L1635.4,1115.7 L1642.1,1109.7 L1647.4,1104.5 L1650.5,1100.5 L1653.3,1095.8 L1664.5,1073.5 L1669.4,1063.1 L1683.5,1030.5 L1688.6,1017.5 L1693.3,1003.7 L1700.0,981.7 L1716.8,922.6 L1719.3,915.0 L1722.4,907.1 L1725.3,900.7 L1728.4,894.4 L1731.9,888.4 L1735.7,882.5 L1738.9,878.1 L1742.2,874.2 L1746.1,870.4 L1749.9,867.1 L1753.1,864.9 L1757.0,862.6 L1761.1,860.7 L1765.7,858.8 L1771.9,856.7 L1776.2,855.4 L1780.1,854.7 L1784.6,854.3 L1811.5,853.4 L1887.5,852.0 L1938.5,852.5 L1973.0,853.7" fill="none" stroke="#1c1c1c" stroke-width="2.4" stroke-linejoin="round" stroke-linecap="round"/>
<line x1="1181" y1="848.5" x2="1224" y2="848.5" stroke="#1c1c1c" stroke-width="3"/>
<text x="0" y="0" transform="translate(1241,861.8) scale(0.86,1)" textLength="149.2" lengthAdjust="spacing" font-family="'Liberation Serif', 'Times New Roman', serif" font-size="36.5" font-weight="bold">10 mV<tspan font-weight="normal">/</tspan>s</text>
<line x1="1181" y1="895.3" x2="1224" y2="895.3" stroke="#a81e1e" stroke-width="3"/>
<text x="0" y="0" transform="translate(1241,908.1) scale(0.86,1)" textLength="148.3" lengthAdjust="spacing" font-family="'Liberation Serif', 'Times New Roman', serif" font-size="36.5" font-weight="bold">50 mV<tspan font-weight="normal">/</tspan>s</text>
<line x1="1181" y1="941.6" x2="1224" y2="941.6" stroke="#f2c025" stroke-width="3"/>
<text x="0" y="0" transform="translate(1241,956.4) scale(0.86,1)" textLength="170.9" lengthAdjust="spacing" font-family="'Liberation Serif', 'Times New Roman', serif" font-size="36.5" font-weight="bold">150 mV<tspan font-weight="normal">/</tspan>s</text>
<line x1="1181" y1="988.4" x2="1224" y2="988.4" stroke="#22a85a" stroke-width="3"/>
<text x="0" y="0" transform="translate(1241,1000.8) scale(0.86,1)" textLength="171.9" lengthAdjust="spacing" font-family="'Liberation Serif', 'Times New Roman', serif" font-size="36.5" font-weight="bold">200 mV<tspan font-weight="normal">/</tspan>s</text>
<line x1="1181" y1="1028.9" x2="1224" y2="1028.9" stroke="#8a4cc0" stroke-width="3"/>
<text x="0" y="0" transform="translate(1241,1044.5) scale(0.86,1)" textLength="170.9" lengthAdjust="spacing" font-family="'Liberation Serif', 'Times New Roman', serif" font-size="36.5" font-weight="bold">250 mV<tspan font-weight="normal">/</tspan>s</text>
<text x="0.0" y="0.0" font-family="'Liberation Sans', Arial, sans-serif" font-size="56" font-weight="bold" text-anchor="start" transform="translate(1050.4,1370.8) rotate(-90)">Current density (A/g)</text>
<text x="1250" y="1513.2" font-family="'Liberation Serif', 'Times New Roman', serif" font-size="64" font-weight="bold" textLength="541.5" lengthAdjust="spacingAndGlyphs">Voltage (V) vs. Li/Li</text>
<text x="1792.5" y="1482.7" font-family="'Liberation Serif', 'Times New Roman', serif" font-size="41" font-weight="bold">+</text>
<text x="1010.5" y="772.6" font-family="'Liberation Serif', 'Times New Roman', serif" font-size="82" font-weight="normal" text-anchor="start" >d</text>
</svg>
</body></html>
